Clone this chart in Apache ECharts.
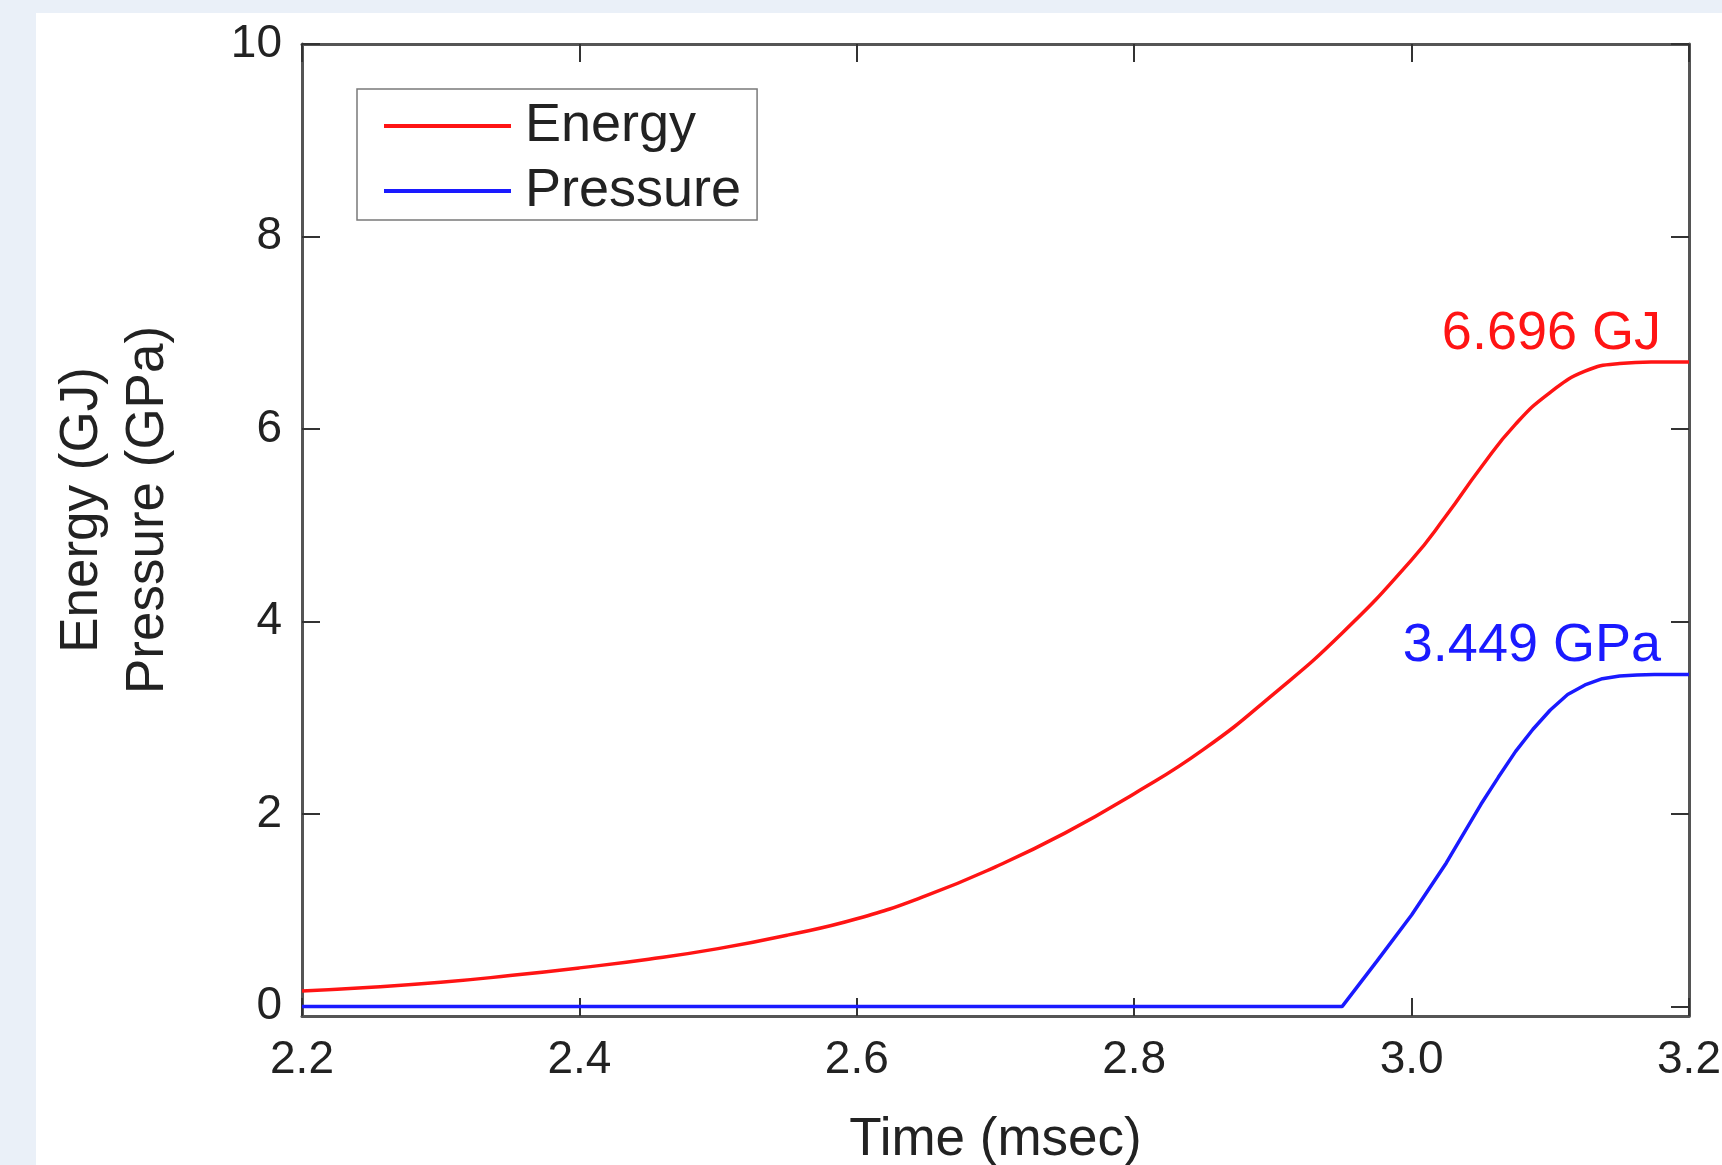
<!DOCTYPE html>
<html>
<head>
<meta charset="utf-8">
<script src="https://cdn.jsdelivr.net/npm/echarts@6/dist/echarts.min.js"></script>
<style>
  html, body { margin: 0; padding: 0; background: #eaf0f8; }
  #panel { position: absolute; left: 36px; top: 13px; width: 1686px; height: 1152px; background: #ffffff; }
  #chart { position: absolute; left: 0; top: 0; width: 1722px; height: 1165px; }
</style>
</head>
<body>
<div id="panel"></div>
<div id="chart"></div>
<script>
// ---- data ----
const energyTime   = [2.20, 2.25, 2.30, 2.35, 2.40, 2.45, 2.50, 2.55, 2.60, 2.65, 2.70, 2.75, 2.80, 2.85, 2.90, 2.95, 3.00, 3.025, 3.05, 3.075, 3.10, 3.125, 3.15, 3.175, 3.20];
const energyValues = [0.16, 0.20, 0.25, 0.32, 0.40, 0.49, 0.60, 0.74, 0.91, 1.15, 1.45, 1.80, 2.21, 2.67, 3.24, 3.88, 4.64, 5.10, 5.60, 6.05, 6.38, 6.60, 6.68, 6.695, 6.696];

const pressureTime   = [2.20, 2.95, 2.975, 3.00, 3.025, 3.05, 3.0625, 3.075, 3.0875, 3.10, 3.1125, 3.125, 3.1375, 3.15, 3.1625, 3.175, 3.20];
const pressureValues = [0.00, 0.00, 0.47, 0.95, 1.49, 2.10, 2.38, 2.65, 2.88, 3.08, 3.24, 3.34, 3.405, 3.432, 3.444, 3.449, 3.449];

const seriesNames = ['Energy', 'Pressure'];
const endLabels = ['6.696 GJ', '3.449 GPa'];
const finalValues = [6.696, 3.449];
const yTickValues = [0, 2, 4, 6, 8, 10];
const xName = 'Time (msec)';
const yName = 'Energy (GJ)\nPressure (GPa)';

// ---- chart ----
const FONT = 'Liberation Sans, Arial, sans-serif';
const TXT = '#222222';
const RED = '#ff1414';
const BLUE = '#1a1aff';
const FRAME = { color: '#555555', width: 3 };
const TICK = { color: '#333333', width: 2 };

const energyData = energyTime.map((t, i) => [t, energyValues[i]]);
const pressureData = pressureTime.map((t, i) => [t, pressureValues[i]]);

const chart = echarts.init(document.getElementById('chart'), null, { renderer: 'canvas' });

const baseX = {
  type: 'value', min: 2.2, max: 3.2, interval: 0.2,
  axisLine: { show: true, onZero: false, lineStyle: FRAME },
  axisTick: { show: true, inside: true, length: 18, lineStyle: TICK },
  splitLine: { show: false }
};
const baseY = {
  type: 'value', min: -0.1, max: 10,
  axisLine: { show: true, onZero: false, lineStyle: FRAME },
  axisTick: { show: true, inside: true, length: 18, lineStyle: TICK, customValues: yTickValues },
  splitLine: { show: false }
};

chart.setOption({
  animation: false,
  backgroundColor: 'transparent',
  grid: { left: 302, right: 33, top: 44, bottom: 149, containLabel: false, outerBoundsMode: 'none' },
  legend: {
    data: seriesNames.map((n, i) => ({ name: n, icon: 'rect', itemStyle: { color: i === 0 ? RED : BLUE } })),
    orient: 'vertical',
    left: 357, top: 89,
    backgroundColor: '#ffffff',
    borderColor: '#7a7a7a', borderWidth: 1.5,
    padding: [8, 16, 0, 27],
    itemWidth: 127, itemHeight: 4, itemGap: 7,
    textStyle: { fontFamily: FONT, fontSize: 54, color: TXT, lineHeight: 56, padding: [2, 0, 0, 9] }
  },
  xAxis: [
    Object.assign({}, baseX, {
      position: 'bottom',
      name: xName, nameLocation: 'middle', nameGap: 98,
      nameTextStyle: { fontFamily: FONT, fontSize: 53, color: TXT },
      axisLabel: { show: true, fontFamily: FONT, fontSize: 46, color: TXT, margin: 21,
                   showMinLabel: true, showMaxLabel: true, formatter: v => v.toFixed(1) }
    }),
    Object.assign({}, baseX, { position: 'top', axisLabel: { show: false } })
  ],
  yAxis: [
    Object.assign({}, baseY, {
      position: 'left',
      name: yName, nameLocation: 'middle', nameGap: 121, nameRotate: 90,
      nameTextStyle: { fontFamily: FONT, fontSize: 53, color: TXT, lineHeight: 66, align: 'center', padding: [0, 0, 0, 40] },
      axisLabel: { show: true, fontFamily: FONT, fontSize: 46, color: TXT, margin: 20, customValues: yTickValues }
    }),
    Object.assign({}, baseY, { position: 'right', axisLabel: { show: false } })
  ],
  series: [
    {
      name: seriesNames[0], type: 'line', xAxisIndex: 0, yAxisIndex: 0,
      data: energyData, smooth: 0.5, showSymbol: false, symbol: 'none',
      lineStyle: { color: RED, width: 3.5 }, itemStyle: { color: RED },
      markPoint: {
        symbol: 'circle', symbolSize: 0, silent: true,
        data: [{ coord: [3.2, finalValues[0]] }],
        label: { show: true, formatter: endLabels[0], position: 'top', align: 'right',
                 offset: [-28, 4], fontFamily: FONT, fontSize: 54, color: RED }
      }
    },
    {
      name: seriesNames[1], type: 'line', xAxisIndex: 0, yAxisIndex: 0,
      data: pressureData, smooth: false, showSymbol: false, symbol: 'none',
      lineStyle: { color: BLUE, width: 3.5 }, itemStyle: { color: BLUE },
      markPoint: {
        symbol: 'circle', symbolSize: 0, silent: true,
        data: [{ coord: [3.2, finalValues[1]] }],
        label: { show: true, formatter: endLabels[1], position: 'top', align: 'right',
                 offset: [-28, 4], fontFamily: FONT, fontSize: 54, color: BLUE }
      }
    }
  ]
});
</script>
</body>
</html>
